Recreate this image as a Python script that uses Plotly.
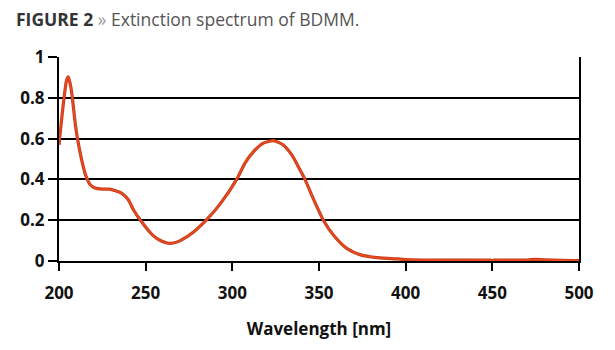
import plotly.graph_objects as go

wavelength = [200, 202.5, 204.4, 205.4, 206.8, 207.7, 209.6, 210.8, 213.1, 215.4, 217.9, 220.8,
              225, 229, 236, 240, 243, 247, 254, 259, 263, 266, 270, 278, 286, 293, 302.5,
              307.3, 312.1, 317.9, 323.7, 329.4, 334.3, 339.1, 341.9, 347, 352.5, 359, 366,
              374, 385, 392, 400, 410, 420, 430, 440, 449, 450, 451, 460, 470, 475, 480, 490, 500]
extinction = [0.57, 0.77, 0.887, 0.903, 0.854, 0.80, 0.658, 0.593, 0.495, 0.42, 0.375, 0.358,
              0.352, 0.352, 0.333, 0.30, 0.25, 0.20, 0.127, 0.098, 0.087, 0.088, 0.10, 0.145, 0.21,
              0.28, 0.40, 0.48, 0.535, 0.578, 0.59, 0.569, 0.52, 0.446, 0.40, 0.30, 0.20, 0.12,
              0.062, 0.03, 0.015, 0.012, 0.007, 0.005, 0.004, 0.004, 0.004, 0.004, 0.0, 0.004,
              0.004, 0.005, 0.008, 0.006, 0.003, 0.002]

x_ticks = [200, 250, 300, 350, 400, 450, 500]
y_ticks = [0, 0.2, 0.4, 0.6, 0.8, 1]
y_tick_labels = ["0", "0.2", "0.4", "0.6", "0.8", "1"]

fig = go.Figure()
fig.add_trace(go.Scatter(x=wavelength, y=extinction, mode="lines",
                         line=dict(color="#c23b1c", width=3.2, shape="spline", smoothing=0.6),
                         hoverinfo="skip"))
fig.add_trace(go.Scatter(x=wavelength, y=extinction, mode="lines",
                         line=dict(color="#ea4a1e", width=1.6, shape="spline", smoothing=0.6)))

tick_font = dict(family="Open Sans", size=17, color="#111111", weight="bold")

fig.update_layout(
    width=615, height=350,
    margin=dict(l=59, r=36, t=57, b=89),
    paper_bgcolor="white", plot_bgcolor="white",
    showlegend=False,
    font=dict(family="Open Sans"),
    xaxis=dict(range=[200, 500], tickvals=x_ticks, ticks="outside", ticklen=8, tickwidth=2,
               tickcolor="black", showline=True, linecolor="black", linewidth=2,
               showgrid=False, zeroline=False, tickfont=tick_font, ticklabelstandoff=8,
               title=dict(text="Wavelength [nm]", font=dict(family="Open Sans", size=17,
                                                             color="#111111", weight="bold"),
                          standoff=20)),
    yaxis=dict(range=[0, 1], tickvals=y_ticks, ticktext=y_tick_labels, ticks="outside",
               ticklen=9, tickwidth=2, tickcolor="black", showline=True, linecolor="black",
               linewidth=2, mirror=True, showgrid=True, gridcolor="black", gridwidth=2,
               zeroline=False, tickfont=tick_font),
)

fig.add_annotation(
    text="<b>FIGURE 2</b> <span style='color:#9a9a9a'>»</span> "
         "<span style='color:#555555'>Extinction spectrum of BDMM.</span>",
    xref="paper", yref="paper", x=0, y=1, xshift=-45, yshift=38,
    xanchor="left", yanchor="middle", showarrow=False,
    font=dict(family="Open Sans", size=17.5, color="#333333"))

fig.write_html("out.html")
